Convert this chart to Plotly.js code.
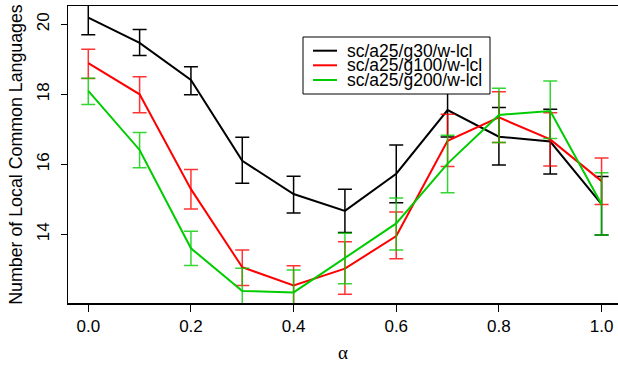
<!DOCTYPE html>
<html>
<head>
<meta charset="utf-8">
<script src="https://cdn.plot.ly/plotly-3.0.1.min.js"></script>
<style>html,body{margin:0;padding:0;background:#fff;}#chart{width:618px;height:366px;}</style>
</head>
<body>
<div id="chart"></div>
<script>
const alpha = [0.0, 0.1, 0.2, 0.3, 0.4, 0.5, 0.6, 0.7, 0.8, 0.9, 1.0];
const seriesNames = ["sc/a25/g30/w-lcl", "sc/a25/g100/w-lcl", "sc/a25/g200/w-lcl"];

const g30Mean  = [20.19, 19.47, 18.41, 16.10, 15.15, 14.67, 15.73, 17.55, 16.79, 16.65, 14.86];
const g30Upper = [20.68, 19.85, 18.79, 16.77, 15.66, 15.29, 16.55, 18.33, 17.62, 17.57, 15.65];
const g30Lower = [19.70, 19.11, 17.99, 15.46, 14.61, 14.05, 14.90, 16.78, 15.98, 15.72, 13.98];

const g100Mean  = [18.89, 18.00, 15.29, 13.06, 12.54, 13.02, 13.95, 16.67, 17.34, 16.71, 15.52];
const g100Upper = [19.29, 18.50, 15.85, 13.55, 13.10, 13.79, 14.64, 17.43, 18.07, 17.47, 16.18];
const g100Lower = [18.45, 17.47, 14.72, 12.54, 11.98, 12.29, 13.30, 15.94, 16.62, 15.95, 14.85];

const g200Mean  = [18.10, 16.41, 13.60, 12.38, 12.34, 13.33, 14.31, 16.02, 17.41, 17.52, 14.86];
const g200Upper = [18.46, 16.91, 14.09, 13.03, 12.98, 14.03, 15.04, 16.83, 18.17, 18.38, 15.76];
const g200Lower = [17.71, 15.90, 13.11, 11.73, 11.70, 12.59, 13.55, 15.19, 16.62, 16.74, 13.98];

const yTickVals = [14, 16, 18, 20];
const xTickVals = [0.0, 0.2, 0.4, 0.6, 0.8, 1.0];
const xTickText = ["0.0", "0.2", "0.4", "0.6", "0.8", "1.0"];

const lineColors = ["#000000", "#ff0000", "#00cc00"];
const errColors = ["#000000", "rgba(255,0,0,0.8)", "rgba(0,204,0,0.8)"];

const means = [g30Mean, g100Mean, g200Mean];
const uppers = [g30Upper, g100Upper, g200Upper];
const lowers = [g30Lower, g100Lower, g200Lower];

const traces = means.map((m, i) => ({
  type: 'scatter', mode: 'lines', x: alpha, y: m, name: seriesNames[i],
  line: {color: lineColors[i], width: 2},
  error_y: {
    type: 'data', symmetric: false,
    array: uppers[i].map((u, k) => u - m[k]),
    arrayminus: lowers[i].map((l, k) => m[k] - l),
    color: errColors[i], thickness: 1.5, width: 7
  },
  showlegend: false, hoverinfo: 'skip'
}));

const W = 618, H = 366;
const M = {l: 68, r: 0, t: 6, b: 63};
const pw = W - M.l - M.r, ph = H - M.t - M.b;
const px = v => (v - M.l) / pw;
const py = v => (H - M.b - v) / ph;

const shapes = [{
  type: 'rect', xref: 'paper', yref: 'paper',
  x0: px(303), x1: px(490), y0: py(94), y1: py(37),
  line: {color: '#000', width: 1}, fillcolor: '#fff', layer: 'above'
}];
const annotations = [];
const rowY = [50.7, 65.3, 80];
seriesNames.forEach((n, i) => {
  shapes.push({type: 'line', xref: 'paper', yref: 'paper',
    x0: px(313), x1: px(337), y0: py(rowY[i]), y1: py(rowY[i]),
    line: {color: lineColors[i], width: 2}, layer: 'above'});
  annotations.push({xref: 'paper', yref: 'paper', x: px(345), y: py(rowY[i]),
    xanchor: 'left', yanchor: 'middle', showarrow: false, text: n,
    font: {family: 'Liberation Sans, Arial, sans-serif', size: 17.5, color: '#000'}});
});

const layout = {
  width: W, height: H, margin: M,
  paper_bgcolor: '#fff', plot_bgcolor: '#fff',
  font: {family: 'Liberation Sans, Arial, sans-serif', size: 17, color: '#000'},
  showlegend: false,
  xaxis: {
    range: [-0.0395, 1.032], showgrid: false, zeroline: false,
    showline: true, linecolor: '#000', linewidth: 1.5, mirror: true,
    ticks: 'outside', ticklen: 7, tickcolor: '#000', tickwidth: 1,
    tickvals: xTickVals, ticktext: xTickText,
    title: {text: 'α', font: {family: 'Liberation Serif, serif', size: 19}, standoff: 11}
  },
  yaxis: {
    range: [12.037, 20.523], showgrid: false, zeroline: false,
    showline: true, linecolor: '#000', linewidth: 1.5,
    ticks: 'outside', ticklen: 6, tickcolor: '#000', tickwidth: 1,
    tickvals: yTickVals, tickangle: -90, ticklabelstandoff: 5,
    title: {text: 'Number of Local Common Languages', font: {size: 17.8}, standoff: 6}
  },
  shapes: shapes, annotations: annotations
};

Plotly.newPlot('chart', traces, layout, {staticPlot: true, displayModeBar: false});
</script>
</body>
</html>
